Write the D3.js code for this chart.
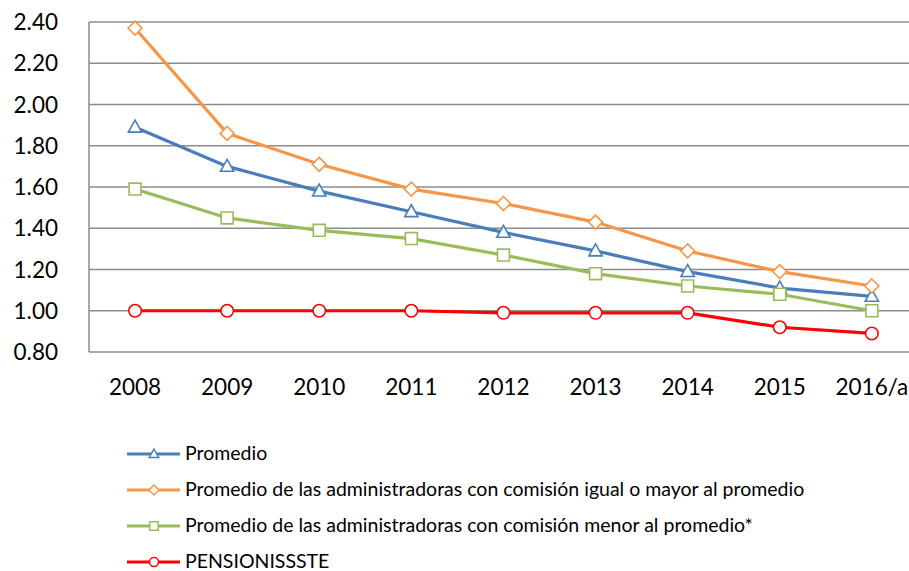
<!DOCTYPE html>
<html>
<head>
<meta charset="utf-8">
<script src="https://cdn.jsdelivr.net/npm/d3@7"></script>
<style>
  body { margin: 0; background: #fff; }
  svg text { font-family: Lato, "Open Sans", sans-serif; fill: #000; }
</style>
</head>
<body>
<div id="chart"></div>
<script>
var years = ["2008", "2009", "2010", "2011", "2012", "2013", "2014", "2015", "2016/a"];
var yTicks = [0.80, 1.00, 1.20, 1.40, 1.60, 1.80, 2.00, 2.20, 2.40];

var promedio = [1.89, 1.70, 1.58, 1.48, 1.38, 1.29, 1.19, 1.11, 1.07];
var mayor    = [2.37, 1.86, 1.71, 1.59, 1.52, 1.43, 1.29, 1.19, 1.12];
var menor    = [1.59, 1.45, 1.39, 1.35, 1.27, 1.18, 1.12, 1.08, 1.00];
var issste   = [1.00, 1.00, 1.00, 1.00, 0.99, 0.99, 0.99, 0.92, 0.89];

var seriesNames = [
    "Promedio",
    "Promedio de las administradoras con comisión igual o mayor al promedio",
    "Promedio de las administradoras con comisión menor al promedio*",
    "PENSIONISSSTE"
];

var width = 909, height = 571;
var plotLeft = 89, plotTop = 22, plotBottom = 352, band = 92.1;

var series = [
    { name: seriesNames[0], values: promedio, color: "#4a7ebb", marker: "triangle" },
    { name: seriesNames[1], values: mayor,    color: "#f79646", marker: "diamond" },
    { name: seriesNames[2], values: menor,    color: "#9bbb59", marker: "square" },
    { name: seriesNames[3], values: issste,   color: "#ff0000", marker: "circle" }
];

var svg = d3.select("#chart").append("svg")
    .attr("width", width)
    .attr("height", height);

var x = d3.scaleBand()
    .domain(years)
    .range([plotLeft, plotLeft + band * years.length])
    .padding(0);

var y = d3.scaleLinear()
    .domain([0.8, 2.4])
    .range([plotBottom, plotTop]);

// grid
svg.append("g")
    .selectAll("line")
    .data(yTicks)
    .enter().append("line")
    .attr("x1", plotLeft)
    .attr("x2", width)
    .attr("y1", function (d) { return y(d); })
    .attr("y2", function (d) { return y(d); })
    .style("stroke", "#8c8c8c")
    .style("stroke-width", 1.5);

svg.append("line")
    .attr("x1", plotLeft).attr("x2", plotLeft)
    .attr("y1", plotTop).attr("y2", plotBottom)
    .style("stroke", "#8c8c8c")
    .style("stroke-width", 1.5);

// y labels
svg.append("g")
    .selectAll("text")
    .data(yTicks)
    .enter().append("text")
    .attr("x", 58)
    .attr("y", function (d) { return y(d) + 8; })
    .attr("text-anchor", "end")
    .style("font-size", "22.5px")
    .text(function (d) { return d3.format(".2f")(d); });

// x labels
svg.append("g")
    .selectAll("text")
    .data(years)
    .enter().append("text")
    .attr("x", function (d) { return x(d) + x.bandwidth() / 2; })
    .attr("y", 395)
    .attr("text-anchor", "middle")
    .style("font-size", "22.5px")
    .text(function (d) { return d; });

function markerPath(type, s) {
    if (type === "triangle") return "M0," + (-s) + "L" + (s * 0.95) + "," + (s * 0.7) + "L" + (-s * 0.95) + "," + (s * 0.7) + "Z";
    if (type === "diamond") return "M0," + (-s) + "L" + s + ",0L0," + s + "L" + (-s) + ",0Z";
    if (type === "square") return "M" + (-s * 0.85) + "," + (-s * 0.85) + "h" + (s * 1.7) + "v" + (s * 1.7) + "h" + (-s * 1.7) + "Z";
    return d3.symbol().type(d3.symbolCircle).size(Math.PI * s * s * 0.8)();
}

var line = d3.line()
    .x(function (d, i) { return x(years[i]) + x.bandwidth() / 2; })
    .y(function (d) { return y(d); });

series.forEach(function (s) {
    var g = svg.append("g");
    g.append("path")
        .attr("d", line(s.values))
        .style("fill", "none")
        .style("stroke", s.color)
        .style("stroke-width", 3.2);
    g.selectAll("path.mk")
        .data(s.values)
        .enter().append("path")
        .attr("class", "mk")
        .attr("transform", function (d, i) {
            return "translate(" + (x(years[i]) + x.bandwidth() / 2) + "," + y(d) + ")";
        })
        .attr("d", markerPath(s.marker, 7))
        .style("fill", "#fff")
        .style("stroke", s.color)
        .style("stroke-width", 1.6);
});

// legend
var legend = svg.append("g")
    .selectAll("g")
    .data(series)
    .enter().append("g")
    .attr("transform", function (d, i) { return "translate(127," + (454 + i * 36) + ")"; });

legend.append("line")
    .attr("x1", 0).attr("x2", 53)
    .style("stroke", function (d) { return d.color; })
    .style("stroke-width", 3.2);

legend.append("path")
    .attr("transform", "translate(27,0)")
    .attr("d", function (d) { return markerPath(d.marker, 5); })
    .style("fill", "#fff")
    .style("stroke", function (d) { return d.color; })
    .style("stroke-width", 1.5);

legend.append("text")
    .attr("x", 58)
    .attr("y", 6)
    .style("font-size", "19.5px")
    .text(function (d) { return d.name; });
</script>
</body>
</html>
